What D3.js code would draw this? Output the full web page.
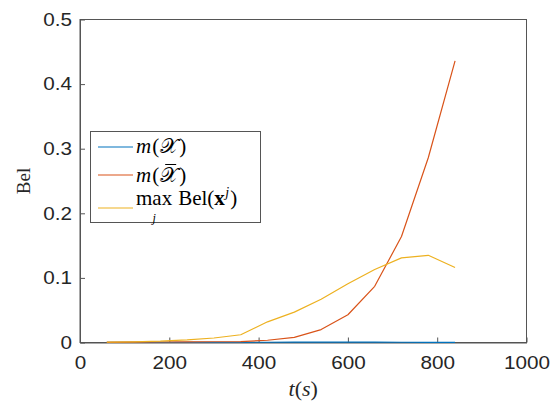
<!DOCTYPE html>
<html>
<head>
<meta charset="utf-8">
<script src="https://cdn.jsdelivr.net/npm/d3@7"></script>
<style>
  html, body { margin: 0; padding: 0; background: #fff; }
  svg { display: block; }
</style>
</head>
<body>
<svg id="chart" width="556" height="402"></svg>
<script>
// Time stamps (s) and belief values of the three tracked quantities
const times = [60, 120, 180, 240, 300, 360, 420, 480, 540, 600, 660, 720, 780, 840];
const mX    = [0.0001, 0.0001, 0.0001, 0.0002, 0.0002, 0.0003, 0.0004, 0.0005, 0.0006, 0.0006, 0.0005, 0.0004, 0.0003, 0.0002];
const mXbar = [0.0003, 0.0005, 0.0008, 0.001, 0.0012, 0.0015, 0.0035, 0.008, 0.020, 0.043, 0.087, 0.164, 0.286, 0.436];
const maxBel = [0.0005, 0.001, 0.002, 0.004, 0.007, 0.012, 0.032, 0.047, 0.067, 0.091, 0.113, 0.131, 0.135, 0.116];

const xTicks = [0, 200, 400, 600, 800, 1000];
const yTicks = [0, 0.1, 0.2, 0.3, 0.4, 0.5];

const colors = ["#0072BD", "#D95319", "#EDB120"];

const svg = d3.select("#chart");
const plotL = 80, plotR = 526.5, plotT = 19.5, plotB = 342.5;

const x = d3.scaleLinear().domain([0, 1000]).range([plotL, plotR]);
const y = d3.scaleLinear().domain([0, 0.5]).range([plotB, plotT]);

const axisColor = "#555555";
const tickFont = "'Liberation Sans', Arial, Helvetica, sans-serif";
const sx = 1.15;

// Box around the plot area
svg.append("rect")
  .attr("x", plotL).attr("y", plotT)
  .attr("width", plotR - plotL).attr("height", plotB - plotT)
  .attr("fill", "none").attr("stroke", axisColor).attr("stroke-width", 1);

// Bottom axis, ticks pointing inward
const gx = svg.append("g")
  .attr("transform", `translate(0,${plotB})`)
  .call(d3.axisBottom(x).tickValues(xTicks).tickFormat(d3.format("d"))
    .tickSizeInner(-5).tickSizeOuter(0).tickPadding(14));

// Left axis, ticks pointing inward
const gy = svg.append("g")
  .attr("transform", `translate(${plotL},0)`)
  .call(d3.axisLeft(y).tickValues(yTicks).tickFormat(d => d === 0 ? "0" : d3.format(".1f")(d))
    .tickSizeInner(-5).tickSizeOuter(0).tickPadding(8));

[gx, gy].forEach(g => {
  g.select(".domain").attr("stroke", axisColor);
  g.selectAll(".tick line").attr("stroke", axisColor);
  g.selectAll(".tick text")
    .attr("fill", "#262626")
    .style("font-family", tickFont)
    .style("font-size", "18px");
});
gx.selectAll(".tick text").attr("transform", `scale(${sx},1)`);
gy.selectAll(".tick text").attr("x", -8 / sx).attr("transform", `scale(${sx},1)`);

// Data lines
const series = [mX, mXbar, maxBel];
const line = d3.line().x((d, i) => x(times[i])).y(d => y(d));
series.forEach((vals, k) => {
  svg.append("path")
    .datum(vals)
    .attr("d", line)
    .attr("fill", "none")
    .attr("stroke", colors[k])
    .attr("stroke-width", 1.2)
    .attr("stroke-linejoin", "round");
});

// Axis titles
const serif = "'Liberation Serif', 'DejaVu Serif', 'Times New Roman', serif";
svg.append("text")
  .attr("x", (plotL + plotR) / 2).attr("y", 396)
  .attr("text-anchor", "middle")
  .style("font-family", serif).style("font-size", "22px").attr("fill", "#262626")
  .call(t => {
    t.append("tspan").attr("font-style", "italic").text("t");
    t.append("tspan").text("(");
    t.append("tspan").attr("font-style", "italic").text("s");
    t.append("tspan").text(")");
  });

svg.append("text")
  .attr("transform", `translate(30,${(plotT + plotB) / 2}) rotate(-90)`)
  .attr("text-anchor", "middle")
  .style("font-family", serif).style("font-size", "19px").attr("fill", "#262626")
  .text("Bel");

// Legend
const lg = svg.append("g");
lg.append("rect")
  .attr("x", 90.5).attr("y", 131.5).attr("width", 170).attr("height", 91)
  .attr("fill", "#fff").attr("stroke", axisColor).attr("stroke-width", 1);

const rowsY = [147, 175, 208];
rowsY.forEach((ry, k) => {
  lg.append("line")
    .attr("x1", 98).attr("x2", 133).attr("y1", ry).attr("y2", ry)
    .attr("stroke", colors[k]).attr("stroke-width", 1.2);
});

// Lay out a sequence of text pieces left to right
function piece(g, xPos, yPos, str, opts = {}) {
  const t = g.append("text")
    .attr("x", xPos).attr("y", yPos)
    .style("font-family", opts.family || serif)
    .style("font-size", (opts.size || 21) + "px")
    .attr("fill", "#000")
    .text(str);
  if (opts.italic) t.attr("font-style", "italic");
  if (opts.bold) t.attr("font-weight", "bold");
  if (opts.anchor) t.attr("text-anchor", opts.anchor);
  return t.node().getComputedTextLength();
}

function mRow(baseY, bar) {
  let cx = 136;
  cx += piece(lg, cx, baseY, "m", { italic: true }) + 1;
  cx += piece(lg, cx, baseY, "(");
  const w = piece(lg, cx + 1, baseY, "\u{1D4B3}");
  if (bar) {
    lg.append("line")
      .attr("x1", cx + 6).attr("x2", cx + w - 1)
      .attr("y1", baseY - 17.5).attr("y2", baseY - 17.5)
      .attr("stroke", "#000").attr("stroke-width", 1);
  }
  cx += w + 2;
  piece(lg, cx, baseY, ")");
}
mRow(153, false);
mRow(182, true);

// max_j Bel(x^j)
{
  const baseY = 205;
  let cx = 136;
  const wm = piece(lg, cx, baseY, "max");
  piece(lg, cx + wm / 2, baseY + 17, "j", { italic: true, size: 12, anchor: "middle" });
  cx += wm + 6;
  cx += piece(lg, cx, baseY, "Bel(");
  cx += piece(lg, cx, baseY, "x", { bold: true });
  cx += piece(lg, cx + 0.5, baseY - 8, "j", { italic: true, size: 14 }) + 1.5;
  piece(lg, cx, baseY, ")");
}
</script>
</body>
</html>
